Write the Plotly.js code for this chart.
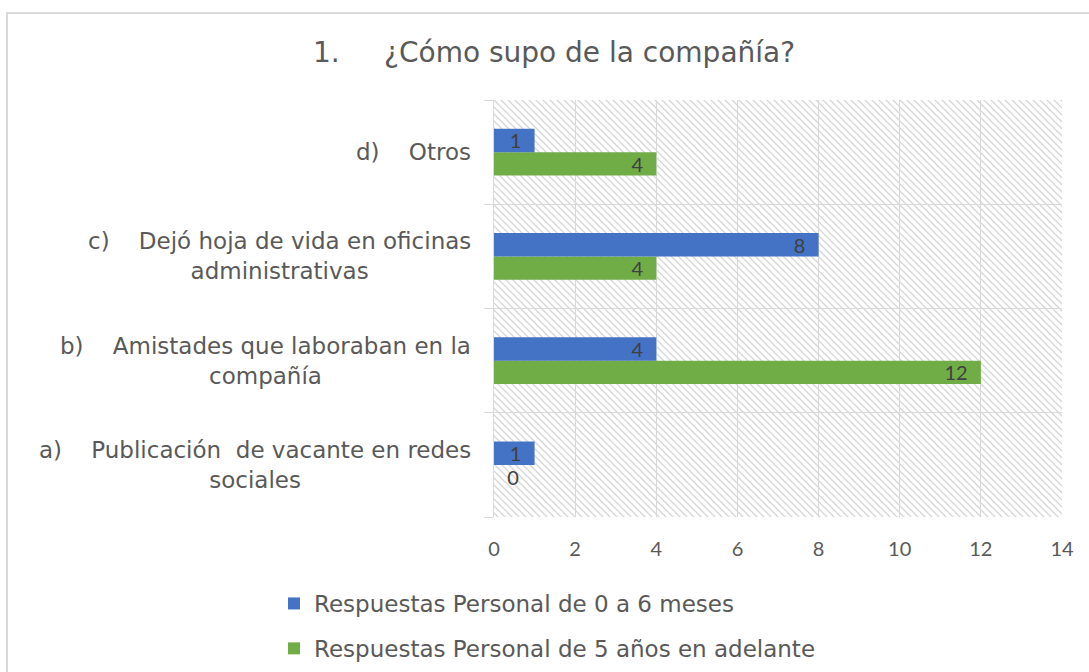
<!DOCTYPE html>
<html>
<head>
<meta charset="utf-8">
<script src="https://cdn.plot.ly/plotly-3.0.1.min.js"></script>
<style>
html,body{margin:0;padding:0;background:#fff;}
#chart{width:1089px;height:672px;}
</style>
</head>
<body>
<div id="chart"></div>
<script>
// ---- data ----
const categories = [
  "a)\u00a0\u00a0\u00a0\u00a0Publicación\u00a0\u00a0de vacante en redes<br>sociales",
  "b)\u00a0\u00a0\u00a0\u00a0Amistades que laboraban en la<br>compañía",
  "c)\u00a0\u00a0\u00a0\u00a0Dejó hoja de vida en oficinas<br>administrativas",
  "d)\u00a0\u00a0\u00a0\u00a0Otros"
];
const categoryKeys = ["a", "b", "c", "d"];
const seriesNames = [
  "Respuestas Personal de 0 a 6 meses",
  "Respuestas Personal de 5 años en adelante"
];
const series0to6 = [1, 4, 8, 1];
const series5plus = [0, 12, 4, 4];
const xTicks = [0, 2, 4, 6, 8, 10, 12, 14];
const titleText = "1.\u00a0\u00a0\u00a0\u00a0\u00a0¿Cómo supo de la compañía?";

// ---- layout geometry ----
const W = 1089, H = 672;
const M = {l: 494, r: 27, t: 100, b: 155, autoexpand: false};
const PW = W - M.l - M.r, PH = H - M.t - M.b;
const px2x = p => (p - M.l) / PW;
const py2y = p => (H - M.b - p) / PH;

const textFamily = "DejaVu Sans, Liberation Sans, Arial, sans-serif";
const labelFont = {family: textFamily, size: 23, color: "#595959"};
const dataFont = {family: "Lato, Calibri, sans-serif", size: 20, color: "#404040"};

function mkTrace(vals, name, color, rank) {
  return {
    type: "bar",
    orientation: "h",
    y: categoryKeys,
    x: vals,
    name: name,
    legendgroup: name,
    legendrank: rank,
    marker: {color: color},
    text: vals.map(String),
    texttemplate: vals.map(v => v === 0 ? "\u00a0\u00a0%{x}" : "%{x}\u00a0\u00a0"),
    textposition: vals.map(v => v === 0 ? "outside" : "inside"),
    textangle: 0,
    insidetextanchor: "end",
    textfont: dataFont,
    outsidetextfont: dataFont,
    insidetextfont: dataFont,
    cliponaxis: false,
    hoverinfo: "x+name"
  };
}

const traces = [
  mkTrace(series5plus, seriesNames[1], "#70ad47", 2),
  mkTrace(series0to6, seriesNames[0], "#4472c4", 1)
];

// hatch background
const hatch = "<svg xmlns='http://www.w3.org/2000/svg' width='" + PW + "' height='" + PH + "'>" +
  "<defs><pattern id='p' width='7' height='7' patternUnits='userSpaceOnUse'>" +
  "<path d='M-2,-2 L9,9 M-2,5 L2,9 M5,-2 L9,2' stroke='#d6d6d6' stroke-width='1.3'/></pattern></defs>" +
  "<rect width='100%' height='100%' fill='url(#p)'/></svg>";
const hatchURI = "data:image/svg+xml;charset=utf-8," + encodeURIComponent(hatch);

const annotations = categories.map((c, i) => ({
  xref: "paper", yref: "y",
  x: px2x(473), y: categoryKeys[i],
  xanchor: "right", yanchor: "middle",
  align: "center",
  text: c,
  showarrow: false,
  font: labelFont
}));

const layout = {
  width: W, height: H,
  margin: M,
  paper_bgcolor: "#ffffff",
  plot_bgcolor: "rgba(0,0,0,0)",
  title: {
    text: titleText,
    font: {family: textFamily, size: 28, color: "#595959"},
    xref: "container", x: 554 / W, xanchor: "center",
    yref: "container", y: 1 - 52 / H, yanchor: "middle"
  },
  barmode: "group",
  bargap: 0.55,
  bargroupgap: 0,
  xaxis: {
    range: [0, 14],
    tickvals: xTicks,
    showgrid: true,
    gridcolor: "#d9d9d9",
    gridwidth: 1,
    zeroline: false,
    showline: false,
    ticks: "",
    tickfont: {family: "Lato, Calibri, sans-serif", size: 20, color: "#595959"},
    ticklabelstandoff: 18,
    fixedrange: true
  },
  yaxis: {
    type: "category",
    categoryorder: "array",
    categoryarray: categoryKeys,
    range: [-0.5, 3.5],
    tickson: "boundaries",
    ticks: "outside",
    ticklen: 9,
    tickcolor: "#d9d9d9",
    showticklabels: false,
    showgrid: true,
    gridcolor: "#d9d9d9",
    showline: true,
    linecolor: "#d9d9d9",
    zeroline: false,
    fixedrange: true
  },
  showlegend: true,
  legend: {
    orientation: "v",
    traceorder: "grouped",
    tracegroupgap: 12,
    x: px2x(274), xanchor: "left",
    y: py2y(582), yanchor: "top",
    font: labelFont,
    bgcolor: "rgba(0,0,0,0)"
  },
  annotations: annotations,
  images: [{
    source: hatchURI,
    xref: "paper", yref: "paper",
    x: 0, y: 1, sizex: 1, sizey: 1,
    xanchor: "left", yanchor: "top",
    sizing: "stretch",
    layer: "below"
  }],
  shapes: [
    {type: "line", xref: "paper", yref: "paper", x0: px2x(6), x1: px2x(1100), y0: py2y(13), y1: py2y(13),
     line: {color: "#d9d9d9", width: 2}},
    {type: "line", xref: "paper", yref: "paper", x0: px2x(7), x1: px2x(7), y0: py2y(12), y1: py2y(680),
     line: {color: "#d9d9d9", width: 2}}
  ],
  uniformtext: {minsize: 20, mode: "show"}
};

Plotly.newPlot("chart", traces, layout, {displayModeBar: false, staticPlot: true});
</script>
</body>
</html>
